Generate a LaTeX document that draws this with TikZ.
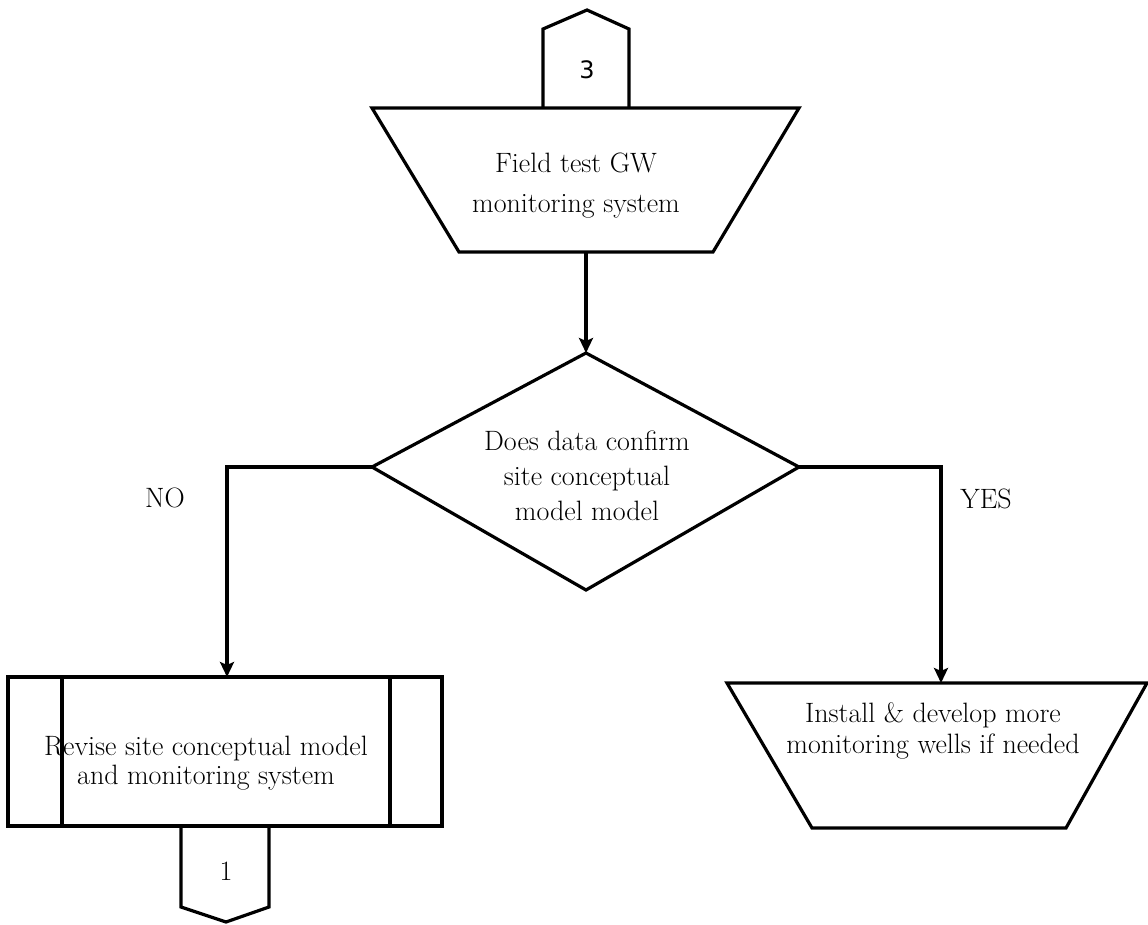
\documentclass[tikz,border=0pt]{standalone}
\usepackage{fontspec}
\newfontfamily\digitfont{DejaVu Sans}
\usetikzlibrary{arrows.meta}
\begin{document}
\begin{tikzpicture}[x=1pt,y=-1pt,
  outline/.style={draw, line width=3.2pt, line join=miter},
  lbl/.style={inner sep=0pt, align=center},
  flow/.style={draw, line width=3.2pt, -{Stealth[length=15pt,width=14pt,inset=3pt]}}]
\useasboundingbox (0,0) rectangle (1148,925);

% off-page connector 3 (top)
\coordinate (c3bl) at (543,108);
\coordinate (c3l) at (543,29);
\coordinate (c3tip) at (587,10);
\coordinate (c3r) at (629,29);
\coordinate (c3br) at (629,108);
\draw[outline] (c3bl) -- (c3l) -- (c3tip) -- (c3r) -- (c3br);
\node[lbl, font=\digitfont\fontsize{24}{28}\selectfont] (n3) at (587,70) {3};

% manual operation: field test
\coordinate (t1a) at (372,108);
\coordinate (t1b) at (799,108);
\coordinate (t1c) at (713,252);
\coordinate (t1d) at (459,252);
\coordinate (t1bot) at (586,252);
\draw[outline] (t1a) -- (t1b) -- (t1c) -- (t1d) -- cycle;
\node[lbl, font=\fontsize{28}{40}\selectfont] (field) at (576,186) {Field test GW\\monitoring system};

% decision
\coordinate (dtop) at (586,353);
\coordinate (dright) at (799,467);
\coordinate (dbot) at (586,590);
\coordinate (dleft) at (372,467);
\draw[outline] (dtop) -- (dright) -- (dbot) -- (dleft) -- cycle;
\node[lbl, font=\fontsize{28}{35}\selectfont] (dec) at (587,476) {Does data confirm\\site conceptual\\model model};

% predefined process: revise
\coordinate (boxtl) at (8,677);
\coordinate (boxbr) at (442,826);
\coordinate (boxtop) at (227,677);
\draw[outline] (boxtl) rectangle (boxbr);
\draw[outline] (62,677) -- (62,826);
\draw[outline] (390,677) -- (390,826);
\node[lbl, font=\fontsize{28}{29}\selectfont] (rev) at (206,763) {Revise site conceptual model\\and monitoring system};

% off-page connector 1 (bottom)
\coordinate (c1tl) at (181,826);
\coordinate (c1l) at (181,907);
\coordinate (c1tip) at (226,922);
\coordinate (c1r) at (269,907);
\coordinate (c1tr) at (269,826);
\draw[outline] (c1tl) -- (c1l) -- (c1tip) -- (c1r) -- (c1tr);
\node[lbl, font=\fontsize{28}{30}\selectfont] (n1) at (226,871) {1};

% manual operation: install
\coordinate (t2a) at (727,683);
\coordinate (t2b) at (1147,683);
\coordinate (t2c) at (1066,828);
\coordinate (t2d) at (812,828);
\coordinate (t2top) at (941,683);
\draw[outline] (t2a) -- (t2b) -- (t2c) -- (t2d) -- cycle;
\node[lbl, font=\fontsize{28}{31}\selectfont] (inst) at (933,731) {Install \& develop more\\monitoring wells if needed};

% connectors
\draw[flow] (t1bot) -- (dtop);
\draw[flow] (dleft) -| (boxtop);
\draw[flow] (dright) -| (t2top);

\node[lbl, font=\fontsize{28}{30}\selectfont] (no) at (165,498) {NO};
\node[lbl, font=\fontsize{28}{30}\selectfont] (yes) at (986,499) {YES};
\end{tikzpicture}
\end{document}
